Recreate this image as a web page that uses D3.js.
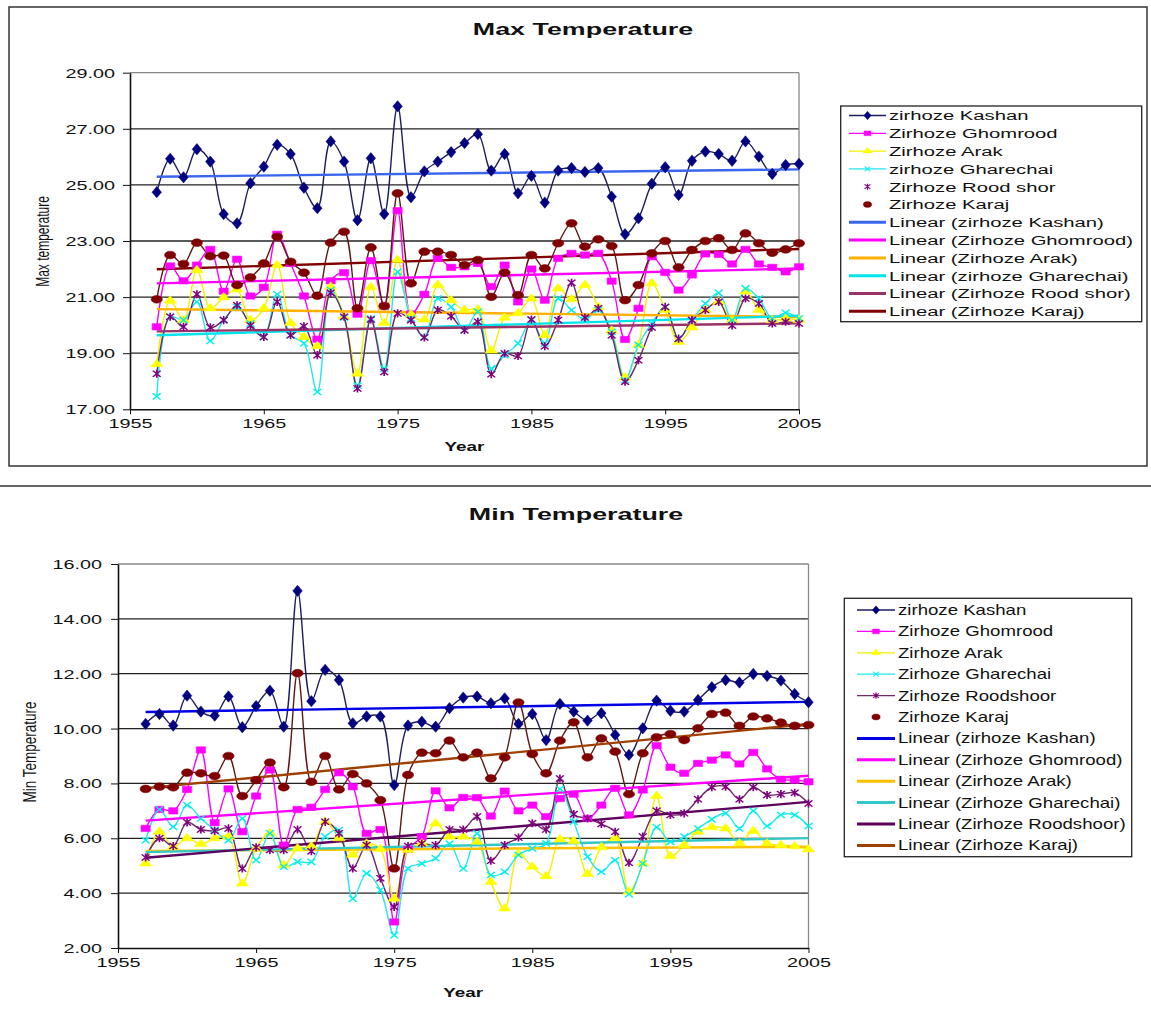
<!DOCTYPE html>
<html><head><meta charset="utf-8">
<script src="https://cdn.jsdelivr.net/npm/d3@7"></script>
<style>
body{margin:0;background:#fff}
svg{display:block}
text{font-family:"Liberation Sans",Arial,sans-serif;fill:#111}
</style>
</head><body>
<svg id="c" width="1151" height="1013"></svg>
<script>
// ---------- DATA ----------
const years = [1957,1958,1959,1960,1961,1962,1963,1964,1965,1966,1967,1968,1969,1970,1971,1972,1973,1974,1975,1976,1977,1978,1979,1980,1981,1982,1983,1984,1985,1986,1987,1988,1989,1990,1991,1992,1993,1994,1995,1996,1997,1998,1999,2000,2001,2002,2003,2004,2005];
const xTicks = [1955,1965,1975,1985,1995,2005];
const maxTicks = [17,19,21,23,25,27,29];
const minTicks = [2,4,6,8,10,12,14,16];

const maxKashan = [24.74,25.93,25.27,26.27,25.83,23.96,23.63,25.06,25.65,26.43,26.10,24.90,24.17,26.55,25.83,23.74,25.95,23.96,27.80,24.56,25.48,25.83,26.17,26.49,26.81,25.51,26.10,24.70,25.32,24.37,25.51,25.60,25.46,25.60,24.58,23.24,23.81,25.04,25.63,24.64,25.86,26.19,26.10,25.86,26.55,26.01,25.39,25.71,25.75];
const maxGhomrood = [19.94,22.11,21.58,22.14,22.70,21.21,22.35,21.04,21.35,23.24,22.20,21.04,19.50,21.58,21.87,20.39,22.30,20.68,24.08,20.40,21.10,22.38,22.06,22.08,22.20,21.37,22.14,20.83,22.00,20.89,22.38,22.56,22.50,22.56,21.57,19.49,20.60,22.44,21.88,21.25,21.79,22.54,22.52,22.18,22.70,22.18,22.06,21.90,22.08];
const maxArak = [18.61,20.87,20.18,21.96,20.60,20.99,21.27,20.18,20.60,22.14,20.08,19.58,19.25,21.37,20.30,18.27,21.35,20.08,22.32,20.39,20.20,21.43,20.89,20.54,20.56,19.10,20.26,20.42,20.95,19.64,21.31,20.92,21.43,20.65,19.80,18.13,19.29,21.49,20.54,19.40,19.92,20.54,20.83,20.18,21.20,20.54,20.18,20.24,20.18];
const maxGharechai = [17.46,20.30,20.18,20.83,19.44,20.18,20.65,20.06,19.58,21.10,19.64,19.35,17.62,21.25,20.27,17.85,20.24,18.45,21.90,20.24,19.58,20.95,20.65,19.82,20.48,18.45,18.93,19.35,20.18,19.35,20.95,20.54,20.18,20.54,19.76,18.04,19.29,20.06,20.65,19.52,20.18,20.77,21.15,20.18,21.31,20.95,20.24,20.44,20.24];
const maxRoodshor = [18.27,20.30,19.94,21.10,19.92,20.18,20.71,19.99,19.58,20.83,19.64,19.96,18.93,21.15,20.30,17.74,20.20,18.33,20.42,20.18,19.56,20.54,20.32,19.82,20.12,18.25,18.99,18.90,20.20,19.25,20.18,21.51,20.27,20.60,19.64,17.98,18.75,19.92,20.65,19.52,20.18,20.54,20.83,19.99,20.95,20.77,20.06,20.12,20.06];
const maxKaraj = [20.92,22.50,22.18,22.94,22.46,22.48,21.43,21.70,22.20,23.15,22.26,21.87,21.05,22.94,23.33,20.60,22.77,20.68,24.70,21.49,22.62,22.62,22.50,22.14,22.32,21.01,21.87,21.07,22.50,22.02,22.92,23.63,22.80,23.06,22.82,20.89,21.43,22.56,23.00,22.06,22.68,23.00,23.10,22.68,23.27,22.92,22.58,22.70,22.92];

const minKashan = [10.17,10.53,10.11,11.20,10.62,10.47,11.17,10.05,10.82,11.38,10.07,15.02,11.00,12.14,11.77,10.19,10.44,10.44,7.94,10.11,10.25,10.07,10.74,11.13,11.17,10.92,11.10,10.17,10.53,9.58,10.90,10.62,10.29,10.56,9.77,9.04,10.01,11.02,10.65,10.62,11.04,11.51,11.77,11.68,11.99,11.92,11.75,11.26,10.96];
const minGhomrood = [6.36,7.05,7.00,7.78,9.22,6.57,7.80,6.24,7.54,8.49,5.75,7.05,7.13,7.78,8.39,7.88,6.18,6.32,2.95,5.60,6.06,7.73,7.11,7.49,7.48,6.81,7.72,7.00,7.21,6.79,7.45,7.61,6.72,7.21,7.82,6.85,7.76,9.38,8.59,8.37,8.73,8.85,9.04,8.71,9.13,8.53,8.15,8.12,8.06];
const minArak = [5.08,6.24,5.69,6.00,5.79,6.00,6.06,4.35,5.63,6.18,5.02,5.63,5.70,6.60,6.00,5.40,5.80,5.60,3.80,5.57,5.81,6.54,6.06,6.06,5.87,4.41,3.44,5.42,4.96,4.62,5.96,5.90,4.70,5.67,6.00,4.05,5.08,7.54,5.35,5.75,6.24,6.40,6.36,5.81,6.27,5.81,5.75,5.71,5.59];
const minGharechai = [5.93,7.05,6.42,7.21,6.72,6.30,5.93,6.72,5.20,6.18,4.96,5.14,5.14,6.06,6.30,3.80,4.72,4.11,2.47,4.90,5.08,5.27,5.80,4.90,6.18,4.66,4.78,5.39,5.63,5.81,7.80,6.60,5.33,4.78,5.20,3.96,5.08,6.40,5.87,6.06,6.36,6.69,6.91,6.36,7.00,6.45,6.85,6.85,6.45];
const minRoodshoor = [5.30,6.00,5.72,6.58,6.32,6.27,6.36,4.90,5.67,5.57,5.57,6.32,5.53,6.60,6.18,4.90,5.75,4.54,3.50,5.72,5.81,5.75,6.32,6.32,6.79,5.18,5.75,6.03,6.55,6.32,8.18,6.88,6.72,6.52,6.24,5.11,6.06,7.00,6.85,6.91,7.42,7.86,7.88,7.42,7.86,7.58,7.61,7.66,7.27];
const minKaraj = [7.80,7.88,7.86,8.39,8.37,8.27,9.00,7.54,8.12,8.76,7.86,12.02,8.06,9.00,7.78,8.34,8.00,7.39,4.90,8.31,9.12,9.10,9.56,8.95,9.12,8.18,8.95,10.95,9.07,8.37,9.56,10.23,8.95,9.64,9.16,7.61,9.10,9.68,9.80,9.58,10.01,10.53,10.58,10.10,10.44,10.37,10.22,10.10,10.13];

const maxNames = ["zirhoze Kashan","Zirhoze Ghomrood","Zirhoze Arak","zirhoze Gharechai","Zirhoze Rood shor","Zirhoze Karaj"];
const minNames = ["zirhoze Kashan","Zirhoze Ghomrood","Zirhoze Arak","Zirhoze Gharechai","Zirhoze Roodshoor","Zirhoze Karaj"];

// ---------- STYLES ----------
const markerKinds = ["diamond","square","triangle","times","asterisk","circle"];
const lineColors = ["#1e1e5e","#ff00ff","#f2f200","#22e8ee","#6e2a66","#5e1a12"];
const markColors = ["#000080","#ff00ff","#ffff00","#00f0f0","#800080","#800000"];
const maxTrendColors = ["#3a66ee","#ff00ff","#ffb000","#00e4ec","#993366","#800000"];
const minTrendColors = ["#0000e6","#ff00ff","#ffc000","#33c8c8","#5e005e","#a04000"];

const svg = d3.select("#c");

function txt(g, x, y, s, o) {
  let tr = `translate(${x},${y}) scale(${o.sx||1},${o.sy||1})`;
  if (o.rot) tr += ` rotate(${o.rot})`;
  const t = g.append("text").attr("transform", tr).attr("font-size", o.size)
    .attr("text-anchor", o.anchor || "start").text(s);
  if (o.bold) t.attr("font-weight", "bold");
  if (o.db) t.attr("dominant-baseline", o.db);
  return t;
}

function markerPath(kind) {
  const m = {
    diamond: d3.symbol(d3.symbolDiamond, 46)(),
    square: d3.symbol(d3.symbolSquare, 50)(),
    triangle: d3.symbol(d3.symbolTriangle, 40)(),
    circle: d3.symbol(d3.symbolCircle, 58)(),
    times: "M-3,-3.5L3,3.5M-3,3.5L3,-3.5",
    asterisk: "M-3,-3.5L3,3.5M-3,3.5L3,-3.5M0,-4.5L0,4.5"
  };
  return m[kind];
}
function drawMarker(g, kind, color, x, y, s) {
  const k = s || 1;
  const stroked = kind === "times" || kind === "asterisk";
  g.append("path").attr("d", markerPath(kind))
    .attr("transform", `translate(${x},${y}) scale(${1.3 * k},${0.9 * k})`)
    .attr("fill", stroked ? "none" : color)
    .attr("stroke", color).attr("stroke-width", stroked ? 1.3 : 0.5);
}

function linReg(xs, ys) {
  const mx = d3.mean(xs), my = d3.mean(ys);
  let sxy = 0, sxx = 0;
  xs.forEach((x, i) => { sxy += (x - mx) * (ys[i] - my); sxx += (x - mx) * (x - mx); });
  const b = sxy / sxx; return { a: my - b * mx, b };
}

function panel(cfg) {
  const g = svg.append("g");
  const x = d3.scaleLinear().domain([1955, 2005]).range(cfg.xr);
  const y = d3.scaleLinear().domain(cfg.yd).range(cfg.yr);
  const [x0, x1] = cfg.xr;
  cfg.yTicks.forEach(v => {
    if (v === cfg.yd[0]) return;
    g.append("line").attr("x1", x0).attr("x2", x1).attr("y1", y(v)).attr("y2", y(v))
      .attr("stroke", v === cfg.yd[1] ? "#888" : "#222").attr("stroke-width", 1.3);
  });
  g.append("line").attr("x1", x1).attr("x2", x1).attr("y1", y(cfg.yd[0])).attr("y2", y(cfg.yd[1]))
    .attr("stroke", "#888").attr("stroke-width", 1.3);
  const ay = g.append("g").attr("transform", `translate(${x0},0)`)
    .call(d3.axisLeft(y).tickValues(cfg.yTicks).tickFormat(d3.format(".2f")).tickSize(7).tickSizeOuter(0));
  ay.select(".domain").attr("stroke", "#111").attr("stroke-width", 1.6);
  ay.selectAll(".tick line").attr("stroke", "#111");
  ay.selectAll(".tick text").attr("x", null).attr("dy", null).attr("font-size", 12)
    .attr("font-family", '"Liberation Sans",Arial,sans-serif').attr("fill", "#222")
    .attr("transform", `translate(${-cfg.ylabGap},4.5) scale(1.65,1)`).attr("text-anchor", "end");
  const ax = g.append("g").attr("transform", `translate(0,${y(cfg.yd[0])})`)
    .call(d3.axisBottom(x).tickValues(xTicks).tickFormat(d3.format("d")).tickSize(5).tickSizeOuter(0));
  ax.select(".domain").attr("stroke", "#111").attr("stroke-width", 1.6);
  ax.selectAll(".tick line").attr("stroke", "#111");
  ax.selectAll(".tick text").attr("y", null).attr("dy", null).attr("font-size", 12)
    .attr("font-family", '"Liberation Sans",Arial,sans-serif').attr("fill", "#222")
    .attr("transform", `translate(0,${cfg.xlabDy}) scale(1.65,1)`).attr("text-anchor", "middle");

  const line = d3.line().x((d, i) => x(years[i])).y(d => y(d)).curve(d3.curveCatmullRom.alpha(0.5));
  cfg.series.forEach((s, k) => {
    g.append("path").attr("d", line(s)).attr("fill", "none")
      .attr("stroke", lineColors[k]).attr("stroke-width", 1.4);
  });
  cfg.series.forEach((s, k) => {
    const r = linReg(years, s);
    g.append("line").attr("x1", x(years[0])).attr("x2", x(years[years.length - 1]))
      .attr("y1", y(r.a + r.b * years[0])).attr("y2", y(r.a + r.b * years[years.length - 1]))
      .attr("stroke", cfg.trendColors[k]).attr("stroke-width", 2.4);
  });
  cfg.series.forEach((s, k) => {
    s.forEach((v, i) => drawMarker(g, markerKinds[k], markColors[k], x(years[i]), y(v)));
  });

  txt(g, cfg.title[1], cfg.title[2], cfg.title[0], { size: 17, bold: true, anchor: "middle", sx: 1.58 });
  txt(g, (x0 + x1) / 2, cfg.yearY, "Year", { size: 13, bold: true, anchor: "middle", sx: 1.45 });
  txt(g, cfg.ytitle[1], cfg.ytitle[2], cfg.ytitle[0], { size: cfg.ytitle[3], anchor: "middle", sx: cfg.ytitle[4], rot: -90, db: "central" });

  const L = cfg.legend;
  g.append("rect").attr("x", L.x).attr("y", L.y).attr("width", L.w).attr("height", L.h)
    .attr("fill", "#fff").attr("stroke", "#222").attr("stroke-width", 1.3);
  const labels = cfg.names.concat(cfg.names.map(n => `Linear (${n})`));
  labels.forEach((lab, i) => {
    const cy = L.row0 + i * L.dy;
    if (i < 6) {
      if (L.lineFlags[i]) g.append("line").attr("x1", L.lx0).attr("x2", L.lx1).attr("y1", cy).attr("y2", cy)
        .attr("stroke", lineColors[i]).attr("stroke-width", 1.3);
      drawMarker(g, markerKinds[i], markColors[i], (L.lx0 + L.lx1) / 2, cy, 0.75);
    } else {
      g.append("line").attr("x1", L.lx0).attr("x2", L.lx1).attr("y1", cy).attr("y2", cy)
        .attr("stroke", cfg.trendColors[i - 6]).attr("stroke-width", 3);
    }
    txt(g, L.tx, cy + L.fs * 0.36, lab, { size: L.fs, sx: L.sx });
  });
}

svg.append("rect").attr("x", 9).attr("y", 7).attr("width", 1138).attr("height", 459)
  .attr("fill", "none").attr("stroke", "#333").attr("stroke-width", 1.5);
svg.append("line").attr("x1", 0).attr("x2", 1151).attr("y1", 486).attr("y2", 486)
  .attr("stroke", "#333").attr("stroke-width", 1.5);

panel({
  series: [maxKashan, maxGhomrood, maxArak, maxGharechai, maxRoodshor, maxKaraj],
  names: maxNames, trendColors: maxTrendColors,
  xr: [130, 799], yd: [17, 29], yr: [409.3, 72.7], yTicks: maxTicks,
  ylabGap: 15, xlabDy: 19,
  title: ["Max Temperature", 583, 35], yearY: 451,
  ytitle: ["Max temperature", 42.5, 241.5, 12, 1.5],
  legend: { x: 840.7, y: 106, w: 301, h: 215.7, row0: 115.5, dy: 17.8, lx0: 849, lx1: 886, tx: 889, fs: 13.5, sx: 1.5,
            lineFlags: [1, 1, 1, 1, 0, 0] }
});

panel({
  series: [minKashan, minGhomrood, minArak, minGharechai, minRoodshoor, minKaraj],
  names: minNames, trendColors: minTrendColors,
  xr: [118, 808.5], yd: [2, 16], yr: [948, 564], yTicks: minTicks,
  ylabGap: 16, xlabDy: 19,
  title: ["Min Temperature", 576, 520], yearY: 997,
  ytitle: ["Min Temperature", 30, 752, 13.5, 1.3],
  legend: { x: 844.3, y: 598.3, w: 287.4, h: 258.4, row0: 610, dy: 21.4, lx0: 857, lx1: 895, tx: 898, fs: 14, sx: 1.33,
            lineFlags: [1, 1, 1, 1, 1, 0] }
});
</script>
</body></html>
